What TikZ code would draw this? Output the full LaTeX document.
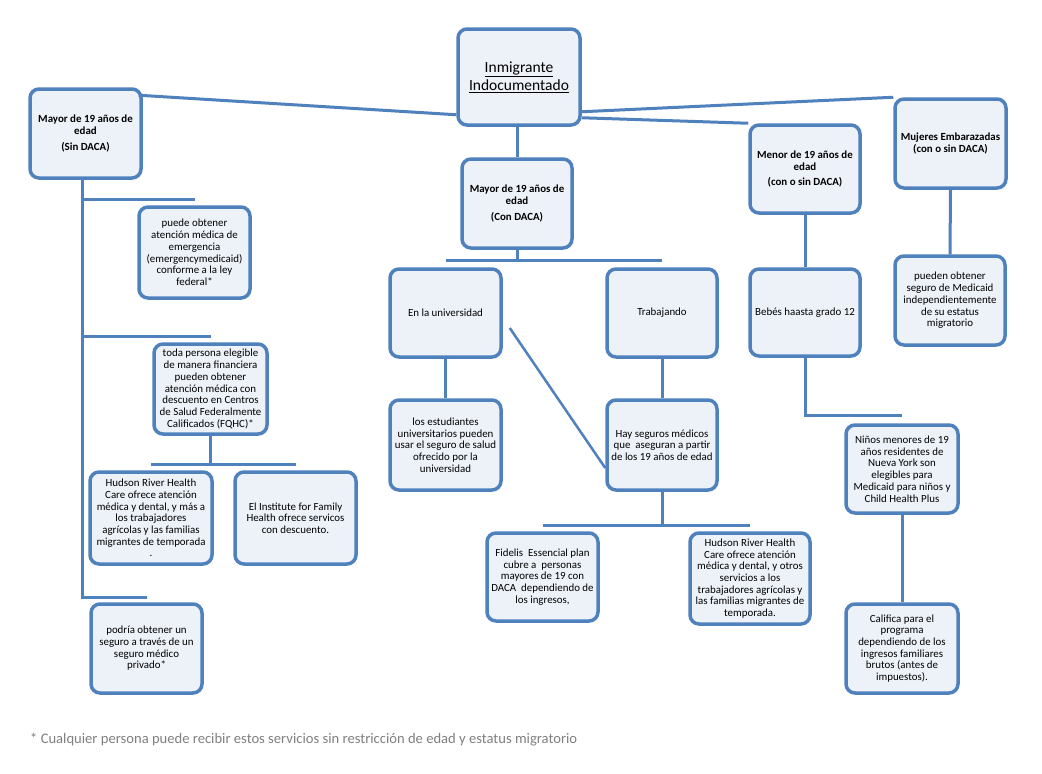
\documentclass[tikz,border=0pt]{standalone}
\usepackage{fontspec}
\setmainfont{Carlito}
\usepackage{tikz}
\usetikzlibrary{calc}
\definecolor{azul}{RGB}{79,129,189}
\definecolor{fondo}{RGB}{237,242,249}
\definecolor{gris}{RGB}{128,128,128}
\tikzset{
	caja/.style={draw=azul, line width=3.5pt, fill=fondo, rounded corners=9pt,
		align=center, inner sep=1pt, font=\fontsize{10.9}{11.7}\selectfont},
	cajab/.style={caja, font=\fontsize{10.9}{11.8}\selectfont\bfseries},
	linea/.style={draw=azul, line width=3pt}
}

\begin{document}
\begin{tikzpicture}[x=1pt,y=-1pt]
		\fill[white] (0,0) rectangle (1042,774);
		\useasboundingbox (0,0) rectangle (1042,774);
		% raiz y primer nivel
		\node[caja, minimum width=122pt, minimum height=96pt, font=\fontsize{15.5}{18.5}\selectfont] (Inm) at (519,77) {\underline{Inmigrante}\\\underline{Indocumentado}};
		\node[cajab, minimum width=111pt, minimum height=89pt] (Sin) at (85.5,133.5) {Mayor de 19 años de\\edad\\[4pt](Sin DACA)};
		\node[cajab, minimum width=110pt, minimum height=89pt] (Con) at (517,203.5) {Mayor de 19 años de\\edad\\[4pt](Con DACA)};
		\node[cajab, minimum width=110pt, minimum height=88pt] (Men) at (805,169) {Menor de 19 años de\\edad\\[4pt](con o sin DACA)};
		\node[cajab, minimum width=111pt, minimum height=89pt] (Muj) at (950.5,143.5) {Mujeres Embarazadas\\(con o sin DACA)};
		% sin DACA
		\node[caja, minimum width=111pt, minimum height=91pt] (Emer) at (194.5,252.5) {puede obtener\\atención médica de\\emergencia\\(emergencymedicaid)\\conforme a la ley\\federal*};
		\node[caja, minimum width=113pt, minimum height=90pt] (FQHC) at (210.5,389) {toda persona elegible\\de manera financiera\\pueden obtener\\atención médica con\\descuento en Centros\\de Salud Federalmente\\Calificados (FQHC)*};
		\node[caja, minimum width=122pt, minimum height=92pt] (HudA) at (151,518) {Hudson River Health\\Care ofrece atención\\médica y dental, y más a\\los trabajadores\\agrícolas y las familias\\migrantes de temporada\\.};
		\node[caja, minimum width=121pt, minimum height=92pt] (Inst) at (295.5,518) {El Institute for Family\\Health ofrece servicos\\con descuento.};
		\node[caja, minimum width=111pt, minimum height=89pt] (Priv) at (146.5,648.5) {podría obtener un\\seguro a través de un\\seguro médico\\privado*};
		% con DACA
		\node[caja, minimum width=111pt, minimum height=88pt] (Uni) at (445.5,313) {En la universidad};
		\node[caja, minimum width=110pt, minimum height=88pt] (Trab) at (662,313) {Trabajando};
		\node[caja, minimum width=111pt, minimum height=90pt] (Est) at (445.5,445) {los estudiantes\\universitarios pueden\\usar el seguro de salud\\ofrecido por la\\universidad};
		\node[caja, minimum width=110pt, minimum height=90pt] (Hay) at (662,445) {Hay seguros médicos\\que \ aseguran a partir\\de los 19 años de edad};
		\node[caja, minimum width=111pt, minimum height=88pt] (Fid) at (542.5,577) {Fidelis \ Essencial plan\\cubre a \ personas\\mayores de 19 con\\DACA \ dependiendo de\\los ingresos,};
		\node[caja, minimum width=120pt, minimum height=91pt] (HudB) at (750,578.5) {Hudson River Health\\Care ofrece atención\\médica y dental, y otros\\servicios a los\\trabajadores agrícolas y\\las familias migrantes de\\temporada.};
		% menores y embarazadas
		\node[caja, minimum width=110pt, minimum height=87pt] (Beb) at (805,312.5) {Bebés haasta grado 12};
		\node[caja, minimum width=112pt, minimum height=88pt] (Nin) at (902,469) {Niños menores de 19\\años residentes de\\Nueva York son\\elegibles para\\Medicaid para niños y\\Child Health Plus};
		\node[caja, minimum width=112pt, minimum height=89pt] (Cal) at (902,648.5) {Califica para el\\programa\\dependiendo de los\\ingresos familiares\\brutos (antes de\\impuestos).};
		\node[caja, minimum width=110pt, minimum height=89pt] (Med) at (950,300.5) {pueden obtener\\seguro de Medicaid\\independientemente\\de su estatus\\migratorio};
		% conectores
		\draw[linea] ([xshift=-4pt,yshift=-8pt]Sin.north east) -- ([yshift=12pt]Inm.south west);
		\draw[linea] ([yshift=9pt]Inm.south east) -- (Men.north west);
		\draw[linea] ([yshift=15pt]Inm.south east) -- (Muj.north west);
		\draw[linea] (Con.north |- Inm.south) -- (Con.north);
		\draw[linea] ([xshift=-3pt]Sin.south) |- ([yshift=6pt]Emer.north);
		\draw[linea] ([xshift=-3pt]Sin.south) |- ([yshift=6pt]FQHC.north);
		\draw[linea] ([xshift=-3pt]Sin.south) |- ([yshift=5pt]Priv.north);
		\draw[linea] (FQHC.south) -- ++(0,28);
		\draw[linea] ([yshift=6pt]HudA.north) -- ([yshift=6pt]Inst.north);
		\draw[linea] (Con.south) -- ++(0,10);
		\draw[linea] ([yshift=7pt]Uni.north) -- ([yshift=7pt]Trab.north);
		\draw[linea] (Uni.south) -- (Est.north);
		\draw[linea] (Trab.south) -- (Hay.north);
		\draw[linea, line width=2.5pt] ([xshift=7pt,yshift=-15pt]Uni.east) -- ([yshift=-23pt]Hay.west);
		\draw[linea] (Hay.south) -- ++(0,33);
		\draw[linea] ([yshift=6pt]Fid.north) -- ([yshift=6pt]HudB.north);
		\draw[linea] (Men.south) -- (Beb.north);
		\draw[linea] (Beb.south) |- ([yshift=8pt]Nin.north);
		\draw[linea] (Nin.south) -- (Cal.north);
		\draw[linea] (Muj.south) -- (Med.north);
		% nota
		\node[anchor=west, text=gris, font=\fontsize{14.6}{17}\selectfont, inner sep=0pt] (nota) at (30,740) {* Cualquier persona puede recibir estos servicios sin restricción de edad y estatus migratorio};
	\end{tikzpicture}
\end{document}
